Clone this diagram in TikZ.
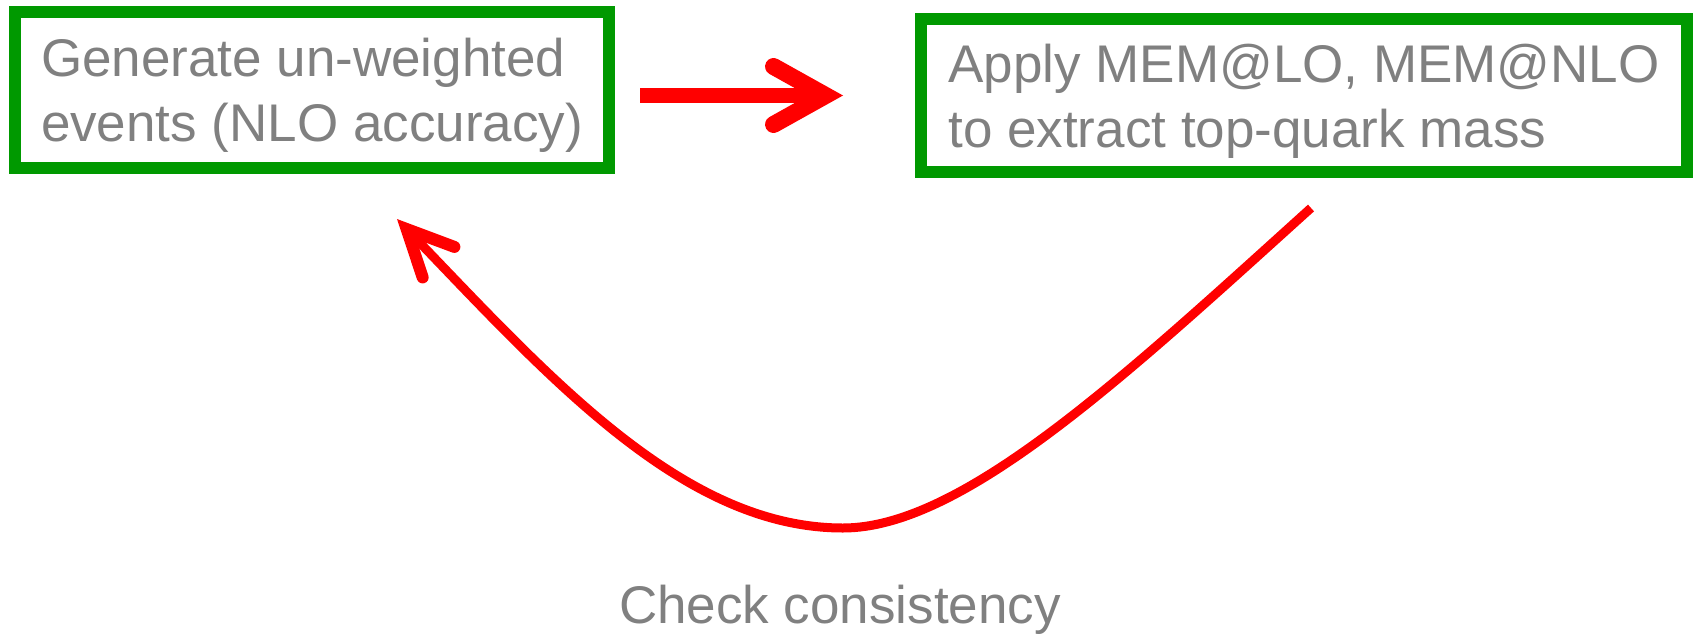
\documentclass[tikz,border=0pt]{standalone}
\usepackage{fontspec}
\setmainfont{Liberation Sans}
\usepackage{tikz}
\usetikzlibrary{calc,positioning,arrows.meta}
\definecolor{boxgreen}{RGB}{0,153,0}
\definecolor{txtgray}{RGB}{128,128,128}

\begin{document}
\begin{tikzpicture}[x=1pt,y=-1pt,
  stepbox/.style={draw=boxgreen, line width=12pt, text=txtgray, align=left,
    inner sep=0pt, text depth=0pt, font=\fontsize{53}{65}\selectfont},
  flow/.style={draw=red, line width=15pt,
    -{Straight Barb[length=52pt,width=58pt,line width=17pt,line cap=round,line join=miter]}},
  back/.style={draw=red, line width=9pt,
    -{Straight Barb[length=46pt,width=44pt,line width=12pt,line cap=round,line join=miter]}}]
\useasboundingbox (0,0) rectangle (1700,635);
%\draw[help lines] (0,0) grid[step=100] (1700,635);
\node[stepbox, minimum width=594pt, minimum height=156pt] (gen) at (312,90)
  {Generate un-weighted\\events (NLO accuracy)};
\node[stepbox, minimum width=766pt, minimum height=153pt] (mem) at (1304,95.5)
  {Apply MEM@LO, MEM@NLO\\to extract top-quark mass};
\draw[flow] ($(gen.east |- mem.west)+(25,0)$) -- ($(mem.west)+(-72,0)$);
\coordinate (low) at (843,528);
\draw[back] ($(mem.south)+(7,30)$) .. controls +(-185,167) and +(120,0) .. (low)
  .. controls +(-160,0) and +(152,158) .. ($(gen.south)+(85,45)$);
\node[font=\fontsize{53}{65}\selectfont, text=txtgray, anchor=base] (check) at (840,623) {Check consistency};
\end{tikzpicture}
\end{document}
